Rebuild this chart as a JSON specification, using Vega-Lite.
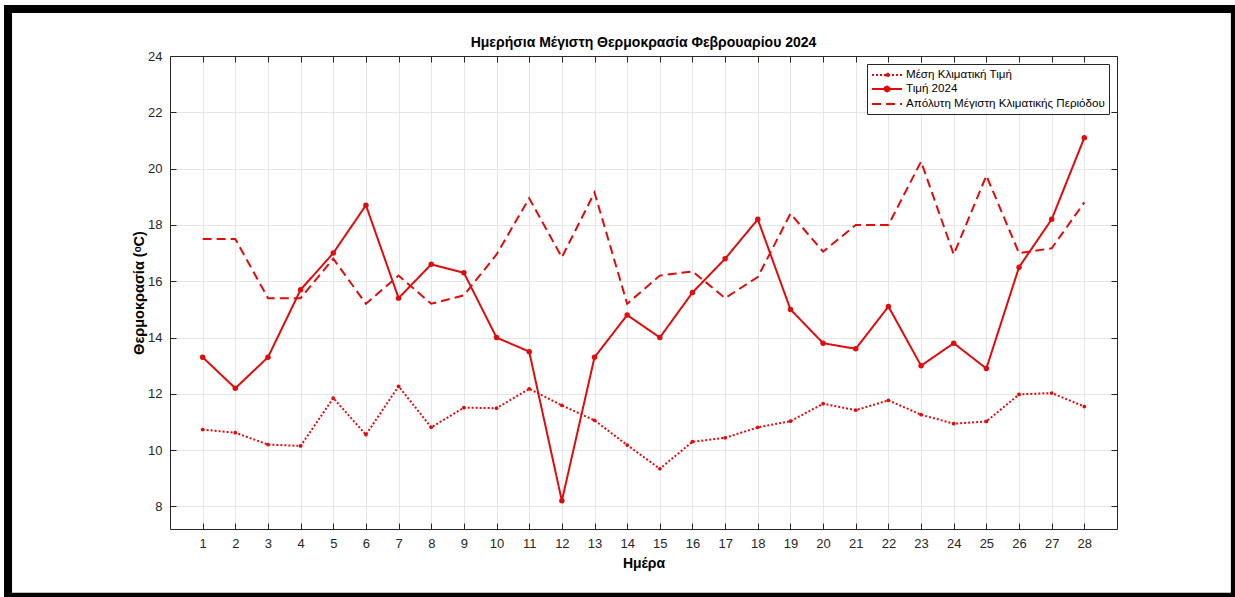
{
  "$schema": "https://vega.github.io/schema/vega-lite/v6.json",
  "width": 947,
  "height": 473,
  "autosize": {"type": "none"},
  "padding": {"left": 170, "top": 56, "right": 118, "bottom": 68},
  "background": "white",
  "title": {
    "text": "Ημερήσια Μέγιστη Θερμοκρασία Φεβρουαρίου 2024",
    "font": "Liberation Sans",
    "fontSize": 14,
    "fontWeight": "bold",
    "color": "#000000",
    "anchor": "middle",
    "offset": -45
  },
  "data": {
    "values": [
      {"day": 1, "series": "Μέση Κλιματική Τιμή", "temp": 10.73},
      {"day": 2, "series": "Μέση Κλιματική Τιμή", "temp": 10.62},
      {"day": 3, "series": "Μέση Κλιματική Τιμή", "temp": 10.2},
      {"day": 4, "series": "Μέση Κλιματική Τιμή", "temp": 10.15},
      {"day": 5, "series": "Μέση Κλιματική Τιμή", "temp": 11.85},
      {"day": 6, "series": "Μέση Κλιματική Τιμή", "temp": 10.55},
      {"day": 7, "series": "Μέση Κλιματική Τιμή", "temp": 12.27},
      {"day": 8, "series": "Μέση Κλιματική Τιμή", "temp": 10.81},
      {"day": 9, "series": "Μέση Κλιματική Τιμή", "temp": 11.51},
      {"day": 10, "series": "Μέση Κλιματική Τιμή", "temp": 11.49},
      {"day": 11, "series": "Μέση Κλιματική Τιμή", "temp": 12.18},
      {"day": 12, "series": "Μέση Κλιματική Τιμή", "temp": 11.59},
      {"day": 13, "series": "Μέση Κλιματική Τιμή", "temp": 11.06},
      {"day": 14, "series": "Μέση Κλιματική Τιμή", "temp": 10.18},
      {"day": 15, "series": "Μέση Κλιματική Τιμή", "temp": 9.34},
      {"day": 16, "series": "Μέση Κλιματική Τιμή", "temp": 10.3},
      {"day": 17, "series": "Μέση Κλιματική Τιμή", "temp": 10.44},
      {"day": 18, "series": "Μέση Κλιματική Τιμή", "temp": 10.81},
      {"day": 19, "series": "Μέση Κλιματική Τιμή", "temp": 11.03},
      {"day": 20, "series": "Μέση Κλιματική Τιμή", "temp": 11.65},
      {"day": 21, "series": "Μέση Κλιματική Τιμή", "temp": 11.42},
      {"day": 22, "series": "Μέση Κλιματική Τιμή", "temp": 11.77},
      {"day": 23, "series": "Μέση Κλιματική Τιμή", "temp": 11.26},
      {"day": 24, "series": "Μέση Κλιματική Τιμή", "temp": 10.94},
      {"day": 25, "series": "Μέση Κλιματική Τιμή", "temp": 11.02},
      {"day": 26, "series": "Μέση Κλιματική Τιμή", "temp": 11.98},
      {"day": 27, "series": "Μέση Κλιματική Τιμή", "temp": 12.03},
      {"day": 28, "series": "Μέση Κλιματική Τιμή", "temp": 11.55},
      {"day": 1, "series": "Τιμή 2024", "temp": 13.3},
      {"day": 2, "series": "Τιμή 2024", "temp": 12.2},
      {"day": 3, "series": "Τιμή 2024", "temp": 13.3},
      {"day": 4, "series": "Τιμή 2024", "temp": 15.7},
      {"day": 5, "series": "Τιμή 2024", "temp": 17.0},
      {"day": 6, "series": "Τιμή 2024", "temp": 18.7},
      {"day": 7, "series": "Τιμή 2024", "temp": 15.4},
      {"day": 8, "series": "Τιμή 2024", "temp": 16.6},
      {"day": 9, "series": "Τιμή 2024", "temp": 16.3},
      {"day": 10, "series": "Τιμή 2024", "temp": 14.0},
      {"day": 11, "series": "Τιμή 2024", "temp": 13.5},
      {"day": 12, "series": "Τιμή 2024", "temp": 8.2},
      {"day": 13, "series": "Τιμή 2024", "temp": 13.3},
      {"day": 14, "series": "Τιμή 2024", "temp": 14.8},
      {"day": 15, "series": "Τιμή 2024", "temp": 14.0},
      {"day": 16, "series": "Τιμή 2024", "temp": 15.6},
      {"day": 17, "series": "Τιμή 2024", "temp": 16.8},
      {"day": 18, "series": "Τιμή 2024", "temp": 18.2},
      {"day": 19, "series": "Τιμή 2024", "temp": 15.0},
      {"day": 20, "series": "Τιμή 2024", "temp": 13.8},
      {"day": 21, "series": "Τιμή 2024", "temp": 13.6},
      {"day": 22, "series": "Τιμή 2024", "temp": 15.1},
      {"day": 23, "series": "Τιμή 2024", "temp": 13.0},
      {"day": 24, "series": "Τιμή 2024", "temp": 13.8},
      {"day": 25, "series": "Τιμή 2024", "temp": 12.9},
      {"day": 26, "series": "Τιμή 2024", "temp": 16.5},
      {"day": 27, "series": "Τιμή 2024", "temp": 18.2},
      {"day": 28, "series": "Τιμή 2024", "temp": 21.1},
      {"day": 1, "series": "Απόλυτη Μέγιστη Κλιματικής Περιόδου", "temp": 17.5},
      {"day": 2, "series": "Απόλυτη Μέγιστη Κλιματικής Περιόδου", "temp": 17.5},
      {"day": 3, "series": "Απόλυτη Μέγιστη Κλιματικής Περιόδου", "temp": 15.4},
      {"day": 4, "series": "Απόλυτη Μέγιστη Κλιματικής Περιόδου", "temp": 15.4},
      {"day": 5, "series": "Απόλυτη Μέγιστη Κλιματικής Περιόδου", "temp": 16.8},
      {"day": 6, "series": "Απόλυτη Μέγιστη Κλιματικής Περιόδου", "temp": 15.2},
      {"day": 7, "series": "Απόλυτη Μέγιστη Κλιματικής Περιόδου", "temp": 16.2},
      {"day": 8, "series": "Απόλυτη Μέγιστη Κλιματικής Περιόδου", "temp": 15.2},
      {"day": 9, "series": "Απόλυτη Μέγιστη Κλιματικής Περιόδου", "temp": 15.5},
      {"day": 10, "series": "Απόλυτη Μέγιστη Κλιματικής Περιόδου", "temp": 16.95},
      {"day": 11, "series": "Απόλυτη Μέγιστη Κλιματικής Περιόδου", "temp": 18.95},
      {"day": 12, "series": "Απόλυτη Μέγιστη Κλιματικής Περιόδου", "temp": 16.85},
      {"day": 13, "series": "Απόλυτη Μέγιστη Κλιματικής Περιόδου", "temp": 19.15},
      {"day": 14, "series": "Απόλυτη Μέγιστη Κλιματικής Περιόδου", "temp": 15.2},
      {"day": 15, "series": "Απόλυτη Μέγιστη Κλιματικής Περιόδου", "temp": 16.2},
      {"day": 16, "series": "Απόλυτη Μέγιστη Κλιματικής Περιόδου", "temp": 16.35},
      {"day": 17, "series": "Απόλυτη Μέγιστη Κλιματικής Περιόδου", "temp": 15.4},
      {"day": 18, "series": "Απόλυτη Μέγιστη Κλιματικής Περιόδου", "temp": 16.15},
      {"day": 19, "series": "Απόλυτη Μέγιστη Κλιματικής Περιόδου", "temp": 18.4},
      {"day": 20, "series": "Απόλυτη Μέγιστη Κλιματικής Περιόδου", "temp": 17.05},
      {"day": 21, "series": "Απόλυτη Μέγιστη Κλιματικής Περιόδου", "temp": 18.0},
      {"day": 22, "series": "Απόλυτη Μέγιστη Κλιματικής Περιόδου", "temp": 18.0},
      {"day": 23, "series": "Απόλυτη Μέγιστη Κλιματικής Περιόδου", "temp": 20.25},
      {"day": 24, "series": "Απόλυτη Μέγιστη Κλιματικής Περιόδου", "temp": 16.95},
      {"day": 25, "series": "Απόλυτη Μέγιστη Κλιματικής Περιόδου", "temp": 19.75},
      {"day": 26, "series": "Απόλυτη Μέγιστη Κλιματικής Περιόδου", "temp": 17.0},
      {"day": 27, "series": "Απόλυτη Μέγιστη Κλιματικής Περιόδου", "temp": 17.17},
      {"day": 28, "series": "Απόλυτη Μέγιστη Κλιματικής Περιόδου", "temp": 18.8}
    ]
  },
  "layer": [
    {
      "mark": {"type": "line", "color": "#e00c0c", "strokeWidth": 2},
      "encoding": {
        "x": {
          "field": "day", "type": "quantitative",
          "scale": {"domain": [0, 29], "nice": false, "zero": false},
          "axis": {
            "orient": "bottom",
            "title": "Ημέρα",
            "values": [1,2,3,4,5,6,7,8,9,10,11,12,13,14,15,16,17,18,19,20,21,22,23,24,25,26,27,28],
            "format": "d",
            "titleFontSize": 14,
            "titlePadding": 6
          }
        },
        "y": {
          "field": "temp", "type": "quantitative",
          "scale": {"domain": [7.2, 24], "nice": false, "zero": false},
          "axis": {
            "orient": "left",
            "title": "Θερμοκρασία (ᵒC)",
            "values": [8, 10, 12, 14, 16, 18, 20, 22, 24],
            "titleFontSize": 14.5,
            "titlePadding": 1
          }
        },
        "strokeDash": {
          "field": "series", "type": "nominal",
          "scale": {
            "domain": ["Μέση Κλιματική Τιμή", "Τιμή 2024", "Απόλυτη Μέγιστη Κλιματικής Περιόδου"],
            "range": [[2, 2], [1, 0], [9, 5]]
          },
          "legend": {
            "title": null,
            "orient": "top-right",
            "offset": 8,
            "fillColor": "white",
            "strokeColor": "#262626",
            "padding": 4,
            "labelFont": "Liberation Sans",
            "labelFontSize": 11.6,
            "labelColor": "#000000",
            "labelLimit": 400,
            "labelOffset": 21,
            "rowPadding": 1,
            "symbolType": "stroke",
            "symbolSize": 144,
            "symbolStrokeWidth": 2,
            "symbolStrokeColor": "#e00c0c",
            "symbolFillColor": "#e00c0c",
            "encode": {
              "symbols": {
                "update": {
                  "shape": [
                    {"test": "datum.value === 'Απόλυτη Μέγιστη Κλιματικής Περιόδου'", "value": "M-1,0H4"},
                    {"test": "datum.value === 'Τιμή 2024'", "value": "M-1,0H4M1.9,0A0.4,0.4 0 1,1 1.1,0A0.4,0.4 0 1,1 1.9,0Z"},
                    {"value": "M-1,0H4M1.78,0A0.28,0.28 0 1,1 1.22,0A0.28,0.28 0 1,1 1.78,0Z"}
                  ],
                  "fill": {"value": "#e00c0c"},
                  "stroke": {"value": "#e00c0c"}
                }
              }
            }
          }
        },
        "detail": {"field": "series", "type": "nominal"}
      }
    },
    {
      "transform": [{"filter": "datum.series === 'Τιμή 2024'"}],
      "mark": {"type": "point", "filled": true, "shape": "circle", "color": "#e00c0c", "size": 30, "opacity": 1},
      "encoding": {
        "x": {"field": "day", "type": "quantitative", "axis": null},
        "y": {"field": "temp", "type": "quantitative", "axis": null}
      }
    },
    {
      "transform": [{"filter": "datum.series === 'Μέση Κλιματική Τιμή'"}],
      "mark": {"type": "point", "filled": true, "shape": "circle", "color": "#e00c0c", "size": 14, "opacity": 1},
      "encoding": {
        "x": {"field": "day", "type": "quantitative", "axis": {"orient": "top", "title": null, "labels": false, "values": [1,2,3,4,5,6,7,8,9,10,11,12,13,14,15,16,17,18,19,20,21,22,23,24,25,26,27,28], "grid": false}},
        "y": {"field": "temp", "type": "quantitative", "axis": {"orient": "right", "title": null, "labels": false, "values": [8, 10, 12, 14, 16, 18, 20, 22, 24], "grid": false}}
      }
    },
    {
      "data": {"values": [{"frame": "border"}]},
      "mark": {"type": "rect", "filled": false, "stroke": "#000000", "strokeWidth": 8, "clip": false},
      "encoding": {
        "x": {"datum": -4.96, "type": "quantitative", "axis": null},
        "x2": {"datum": 32.61},
        "y": {"datum": 25.67, "type": "quantitative", "axis": null},
        "y2": {"datum": 4.79}
      }
    }
  ],
  "resolve": {"axis": {"x": "independent", "y": "independent"}},
  "config": {
    "view": {"stroke": null},
    "axis": {
      "domainColor": "#262626",
      "domainWidth": 1,
      "tickColor": "#262626",
      "tickSize": -6,
      "labelFont": "Liberation Sans",
      "labelFontSize": 13,
      "labelColor": "#262626",
      "labelPadding": 14,
      "titleFont": "Liberation Sans",
      "titleFontWeight": "bold",
      "titleColor": "#000000",
      "grid": true,
      "gridColor": "#e6e6e6",
      "gridWidth": 1
    }
  }
}
